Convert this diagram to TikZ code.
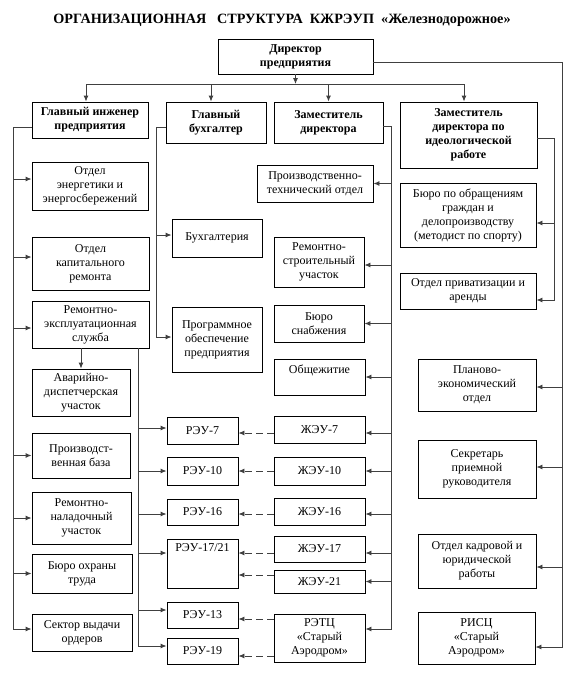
\documentclass[tikz,border=0pt]{standalone}
\usepackage{fontspec}
\setmainfont{Liberation Serif}
\usetikzlibrary{arrows.meta}
\newcommand\bx[7][box]{\node[#1, minimum width={(#5-#3)*1pt}, minimum height={(#6-#4)*1pt}] (#2) at ({(#3+#5)/2},{(#4+#6)/2}) {#7};}
\begin{document}
\begin{tikzpicture}[x=1pt,y=-1pt,
  box/.style={draw, line width=0.9pt, align=center, inner sep=1pt, font=\fontsize{12}{14}\selectfont},
  bbox/.style={box, font=\fontsize{12}{14}\selectfont\bfseries},
  txt/.style={align=center, inner sep=1pt, font=\fontsize{12}{14}\selectfont},
  conn/.style={draw=black!75, line width=0.9pt},
  arr/.style={conn, -{Latex[length=6pt,width=5pt]}},
  darr/.style={arr, dash pattern=on 7pt off 4pt}]
\useasboundingbox[fill=white] (0,0) rectangle (573,694);

\node[font=\fontsize{14.2}{16}\selectfont\bfseries] (title) at (282,20) {ОРГАНИЗАЦИОННАЯ\ \ \ СТРУКТУРА\ \ КЖРЭУП\ \ «Железнодорожное»};

% level 1-2
\bx[bbox]{dir}{218}{39}{373}{74}{Директор\\предприятия}
\bx[bbox]{gi}{32}{102}{148}{138}{Главный инженер\\предприятия}
\bx[bbox]{gb}{166}{102}{266}{143}{Главный\\бухгалтер}
\bx[bbox]{zd}{274}{102}{383}{143}{Заместитель\\директора}
\bx[bbox]{zi}{400}{102}{537}{168}{Заместитель\\директора по\\идеологической\\работе}

% left column
\bx{oe}{32}{162}{148}{210}{Отдел\\энергетики и\\энергосбережений}
\bx{okr}{32}{237}{149}{290}{Отдел\\капитального\\ремонта}
\bx{res}{32}{301}{149}{348}{Ремонтно-\\эксплуатационная\\служба}
\bx{ads}{32}{369}{130}{416}{Аварийно-\\диспетчерская\\участок}
\bx{pb}{32}{433}{130}{478}{Производст-\\венная база}
\bx{rnu}{32}{492}{131}{544}{Ремонтно-\\наладочный\\участок}
\bx{bot}{32}{554}{132}{593}{Бюро охраны\\труда}
\bx{svo}{32}{614}{132}{651}{Сектор выдачи\\ордеров}

% accounting
\bx{buh}{172}{219}{262}{257}{Бухгалтерия}
\bx{po}{172}{307}{262}{372}{Программное\\обеспечение\\предприятия}

% REU
\bx{r7}{167}{417}{238}{444}{РЭУ-7}
\bx{r10}{167}{457}{238}{485}{РЭУ-10}
\bx{r16}{167}{499}{238}{525}{РЭУ-16}
\bx{r1721}{167}{539}{238}{588}{}
\node[txt, anchor=north] (r1721t) at ([yshift=-4pt]r1721.north) {РЭУ-17/21};
\bx{r13}{167}{602}{238}{628}{РЭУ-13}
\bx{r19}{167}{638}{238}{664}{РЭУ-19}

% deputy column
\bx{pto}{257}{165}{373}{202}{Производственно-\\технический отдел}
\bx{rsu}{274}{237}{364}{287}{Ремонтно-\\строительный\\участок}
\bx{bs}{274}{305}{364}{342}{Бюро\\снабжения}
\bx{ob}{274}{359}{365}{395}{}
\node[txt, anchor=north] (obt) at ([yshift=-5pt]ob.north) {Общежитие};
\bx{j7}{274}{416}{365}{443}{ЖЭУ-7}
\bx{j10}{274}{457}{365}{485}{ЖЭУ-10}
\bx{j16}{274}{498}{365}{525}{ЖЭУ-16}
\bx{j17}{274}{536}{365}{562}{ЖЭУ-17}
\bx{j21}{274}{570}{365}{593}{ЖЭУ-21}
\bx{retc}{274}{614}{365}{662}{РЭТЦ\\«Старый\\Аэродром»}

% ideology column
\bx{bo}{400}{183}{536}{247}{Бюро по обращениям\\граждан и\\делопроизводству\\(методист по спорту)}
\bx{opa}{400}{273}{536}{309}{Отдел приватизации  и\\аренды}

% far right
\bx{pe}{418}{359}{536}{411}{Планово-\\экономический\\отдел}
\bx{spr}{418}{440}{536}{498}{Секретарь\\приемной\\руководителя}
\bx{okyu}{418}{534}{536}{588}{Отдел кадровой и\\юридической\\работы}
\bx{risc}{418}{612}{535}{664}{РИСЦ\\«Старый\\Аэродром»}

% ---- connectors ----
\coordinate (busL) at (86,84);
\coordinate (busR) at (464,84);
\draw[arr] (dir.south) -- (dir.south |- busL);
\draw[conn] (busL) -- (busR);
\draw[arr] (busL) -- (busL |- gi.north);
\draw[arr] ([xshift=-5pt]gb.north |- busL) -- ([xshift=-5pt]gb.north);
\draw[arr] (zd.north |- busL) -- (zd.north);
\draw[arr] (busR) -- (busR |- zi.north);

% director right line
\coordinate (rl) at (562,62);
\draw[conn] (dir.east |- rl) -- (rl);
\draw[arr] (rl) |- ([yshift=-9pt]risc.east);
\draw[arr] ([yshift=-2pt]pe.east -| rl) -- ([yshift=-2pt]pe.east);
\draw[arr] ([yshift=2pt]spr.east -| rl) -- ([yshift=2pt]spr.east);
\draw[arr] ([yshift=-6pt]okyu.east -| rl) -- ([yshift=-6pt]okyu.east);

% ideology line
\coordinate (il) at (554,138);
\draw[conn] (zi.east |- il) -- (il);
\draw[arr] (il) |- ([yshift=-9pt]opa.east);
\draw[arr] ([yshift=-8pt]bo.east -| il) -- ([yshift=-8pt]bo.east);

% deputy line
\coordinate (zl) at (391,126);
\draw[conn] (zd.east |- zl) -- (zl);
\draw[arr] (zl) |- ([yshift=9pt]retc.east);
\draw[arr] (pto.east -| zl) -- (pto.east);
\draw[arr] ([yshift=-3pt]rsu.east -| zl) -- ([yshift=-3pt]rsu.east);
\draw[arr] (bs.east -| zl) -- (bs.east);
\draw[arr] (ob.east -| zl) -- (ob.east);
\draw[arr] ([yshift=-3.5pt]j7.east -| zl) -- ([yshift=-3.5pt]j7.east);
\draw[arr] (j10.east -| zl) -- (j10.east);
\draw[arr] ([yshift=-2.5pt]j16.east -| zl) -- ([yshift=-2.5pt]j16.east);
\draw[arr] ([yshift=-4pt]j17.east -| zl) -- ([yshift=-4pt]j17.east);
\draw[arr] (j21.east -| zl) -- (j21.east);

% accountant line
\coordinate (bl) at (156,127);
\draw[conn] (gb.west |- bl) -- (bl);
\draw[arr] (bl) |- ([yshift=2.5pt]po.west);
\draw[arr] ([yshift=3pt]buh.west -| bl) -- ([yshift=3pt]buh.west);

% engineer line
\coordinate (gl) at (13,127);
\draw[conn] (gi.west |- gl) -- (gl);
\draw[arr] (gl) |- ([yshift=3.5pt]svo.west);
\draw[arr] ([yshift=7pt]oe.west -| gl) -- ([yshift=7pt]oe.west);
\draw[arr] ([yshift=6.5pt]okr.west -| gl) -- ([yshift=6.5pt]okr.west);
\draw[arr] ([yshift=-3.5pt]res.west -| gl) -- ([yshift=-3.5pt]res.west);
\draw[arr] (pb.west -| gl) -- (pb.west);
\draw[arr] (rnu.west -| gl) -- (rnu.west);
\draw[arr] (bot.west -| gl) -- (bot.west);
\draw[arr] (ads.north |- res.south) -- (ads.north);

% repair service line
\coordinate (rt) at (138,348);
\draw[arr] (rt) |- ([yshift=5pt]r19.west);
\draw[arr] ([yshift=2.5pt]r7.west -| rt) -- ([yshift=2.5pt]r7.west);
\draw[arr] (r10.west -| rt) -- (r10.west);
\draw[arr] ([yshift=-2pt]r16.west -| rt) -- ([yshift=-2pt]r16.west);
\draw[arr] ([yshift=10.5pt]r1721.west -| rt) -- ([yshift=10.5pt]r1721.west);
\draw[arr] ([yshift=5pt]r13.west -| rt) -- ([yshift=5pt]r13.west);

% dashed links
\draw[darr] ([yshift=-3.5pt]j7.west) -- ([yshift=-3.5pt]j7.west -| r7.east);
\draw[darr] (j10.west) -- (j10.west -| r10.east);
\draw[darr] ([yshift=-2.5pt]j16.west) -- ([yshift=-2.5pt]j16.west -| r16.east);
\draw[darr] ([yshift=-4pt]j17.west) -- ([yshift=-4pt]j17.west -| r1721.east);
\draw[darr] ([yshift=6.5pt]j21.west) -- ([yshift=6.5pt]j21.west -| r1721.east);
\draw[darr] ([yshift=19pt]retc.west) -- ([yshift=19pt]retc.west -| r13.east);
\draw[darr] ([yshift=-18pt]retc.west) -- ([yshift=-18pt]retc.west -| r19.east);
\end{tikzpicture}
\end{document}
